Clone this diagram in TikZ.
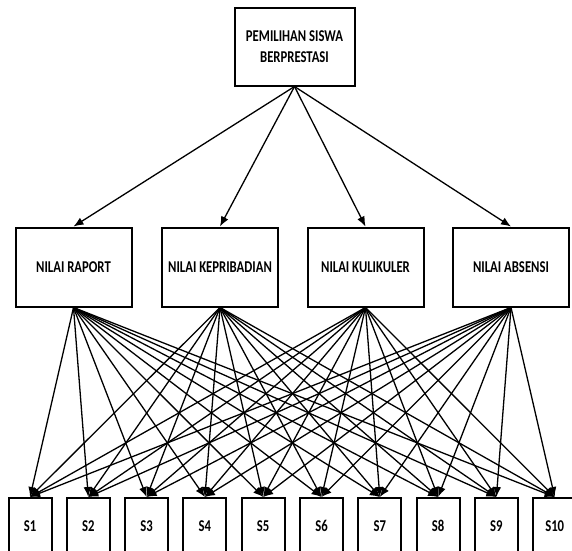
\documentclass[tikz,border=0pt]{standalone}
\usepackage{fontspec}
\usepackage{graphicx}
\setmainfont{Carlito}
\usetikzlibrary{arrows.meta}
\newcommand{\vsc}[1]{\scalebox{1}[1.3]{#1}}
\begin{document}
\begin{tikzpicture}[x=1pt,y=-1pt,
  boxa/.style={draw, line width=2pt, fill=white, inner sep=0pt, align=center,
    font=\bfseries\fontsize{12.7}{20}\selectfont},
  topbox/.style={boxa, minimum width=120pt, minimum height=78pt},
  midbox/.style={boxa, minimum width=116pt, minimum height=79pt},
  sbox/.style={boxa, minimum width=43pt, minimum height=56pt},
  arr/.style={line width=1.3pt, -{Latex[length=10pt,width=8pt]}}
]
\useasboundingbox (0,0) rectangle (572,550);
\node[topbox] (top) at (294.5,46.5) {\vsc{PEMILIHAN SISWA}\\[1pt]\vsc{BERPRESTASI}};
\node[midbox] (m1) at (73.5,267) {\vsc{NILAI RAPORT}};
\node[midbox] (m2) at (220,267) {\vsc{NILAI KEPRIBADIAN}};
\node[midbox] (m3) at (365.5,267) {\vsc{NILAI KULIKULER}};
\node[midbox] (m4) at (511,267) {\vsc{NILAI ABSENSI}};
\foreach \i in {1,...,10} {
  \node[sbox] (s\i) at ({30+58.3*(\i-1)},526) {\vsc{S\i}};
}
\foreach \m in {1,...,4} {
  \draw[arr] (top.south) -- (m\m.north);
  \foreach \i in {1,...,10} {
    \draw[arr] (m\m.south) -- (s\i.north);
  }
}
\end{tikzpicture}
\end{document}
